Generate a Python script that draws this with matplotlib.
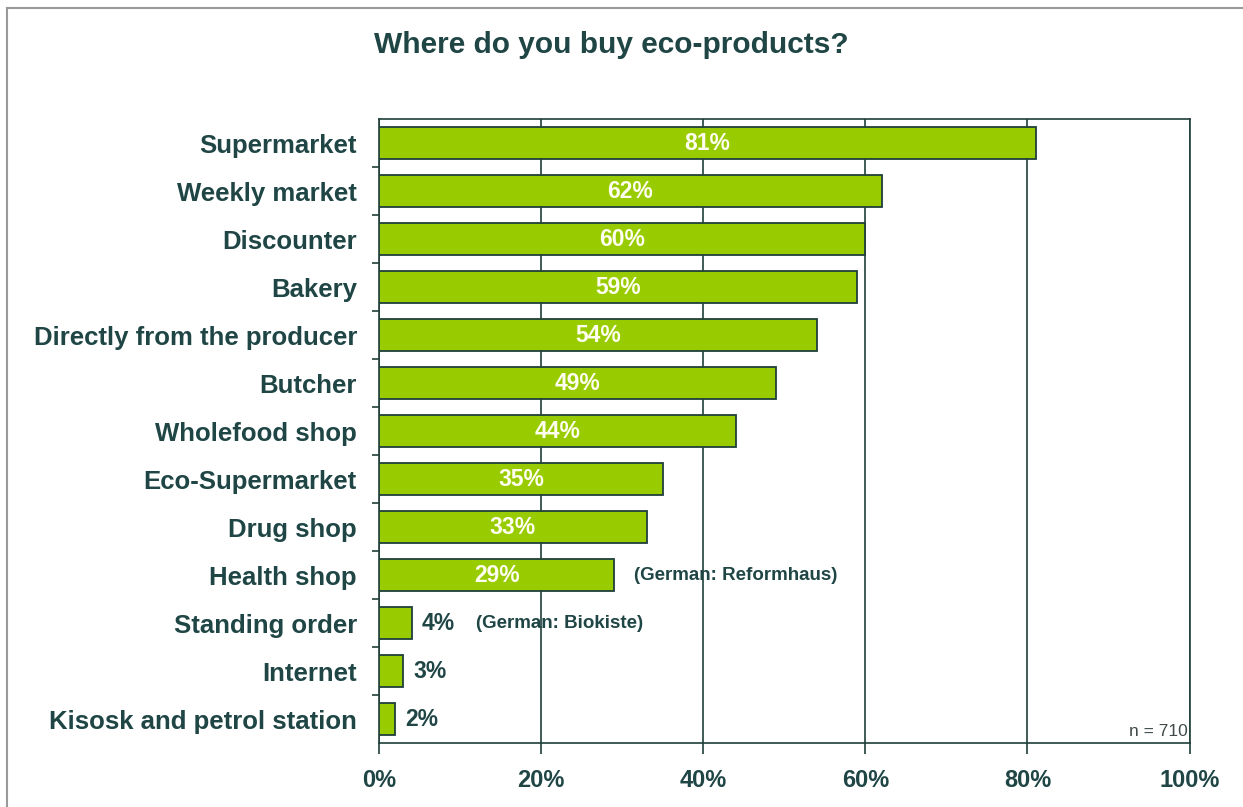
import matplotlib.pyplot as plt
import numpy as np
from matplotlib.lines import Line2D

# Survey results: where eco-products are bought (n = 710)
categories = ["Supermarket", "Weekly market", "Discounter", "Bakery",
              "Directly from the producer", "Butcher", "Wholefood shop",
              "Eco-Supermarket", "Drug shop", "Health shop", "Standing order",
              "Internet", "Kisosk and petrol station"]
shares = [81, 62, 60, 59, 54, 49, 44, 35, 33, 29, 4, 3, 2]
notes = {"Health shop": "(German: Reformhaus)",
         "Standing order": "(German: Biokiste)"}
xticks = [0, 20, 40, 60, 80, 100]

BAR = '#99cc00'
EDGE = '#1f3f3a'
TEXT = '#1f4545'
plt.rcParams['font.family'] = ['Liberation Sans', 'DejaVu Sans']

fig = plt.figure(figsize=(12.43, 8.07), dpi=100)
ax = fig.add_axes([0.305, 0.0793, 0.652, 0.7732])

y = np.arange(len(categories))
ax.barh(y, shares, height=0.68, color=BAR, edgecolor=EDGE, linewidth=1.3, zorder=3)
ax.set_ylim(len(categories) - 0.5, -0.5)
ax.set_xlim(0, 100)

# value labels: inside for wide bars, beside for the small ones
for yi, v in zip(y, shares):
    if v >= 10:
        ax.text(v / 2, yi, f"{v}%", ha='center', va='center', color='#fdfdf0',
                fontsize=16.5, fontweight='bold', zorder=4)
    else:
        ax.annotate(f"{v}%", (v, yi), xytext=(7, 0), textcoords='offset points',
                    ha='left', va='center', color=TEXT, fontsize=16.5,
                    fontweight='bold')

ax.text(31.5, categories.index("Health shop"), notes["Health shop"],
        ha='left', va='center', color=TEXT, fontsize=13.5, fontweight='bold')
ax.text(12, categories.index("Standing order"), notes["Standing order"],
        ha='left', va='center', color=TEXT, fontsize=13.5, fontweight='bold')

# grid and frame
ax.xaxis.grid(True, color=EDGE, linewidth=1.2, zorder=1)
for s in ax.spines.values():
    s.set_color(EDGE)
    s.set_linewidth(1.2)

ax.set_xticks(xticks)
ax.set_xticklabels([f"{t}%" for t in xticks])
ax.tick_params(axis='x', direction='out', length=8, width=1.2, color=EDGE,
               pad=11, labelsize=17, labelcolor=TEXT)
for lbl in ax.get_xticklabels():
    lbl.set_fontweight('bold')

ax.set_yticks(y)
ax.set_yticklabels(categories)
ax.tick_params(axis='y', length=0, pad=16, labelsize=18.5, labelcolor=TEXT)
for lbl in ax.get_yticklabels():
    lbl.set_fontweight('bold')
ax.set_yticks(np.arange(len(categories) - 1) + 0.5, minor=True)
ax.tick_params(axis='y', which='minor', direction='out', length=5, width=1.2,
               color=EDGE)

ax.text(0.998, 0.006, "n = 710", transform=ax.transAxes, ha='right', va='bottom',
        fontsize=12.5, color='#404a4a')

fig.text(0.492, 0.944, "Where do you buy eco-products?", ha='center', va='center',
         fontsize=21.5, fontweight='bold', color=TEXT)

# thin frame on the top and left edges of the figure
fig.add_artist(Line2D([0.0056, 1.0], [0.990, 0.990], transform=fig.transFigure,
                      color='#999999', linewidth=1.5))
fig.add_artist(Line2D([0.0056, 0.0056], [0.0, 0.990], transform=fig.transFigure,
                      color='#999999', linewidth=1.5))

fig.savefig("out.png", dpi=100)
